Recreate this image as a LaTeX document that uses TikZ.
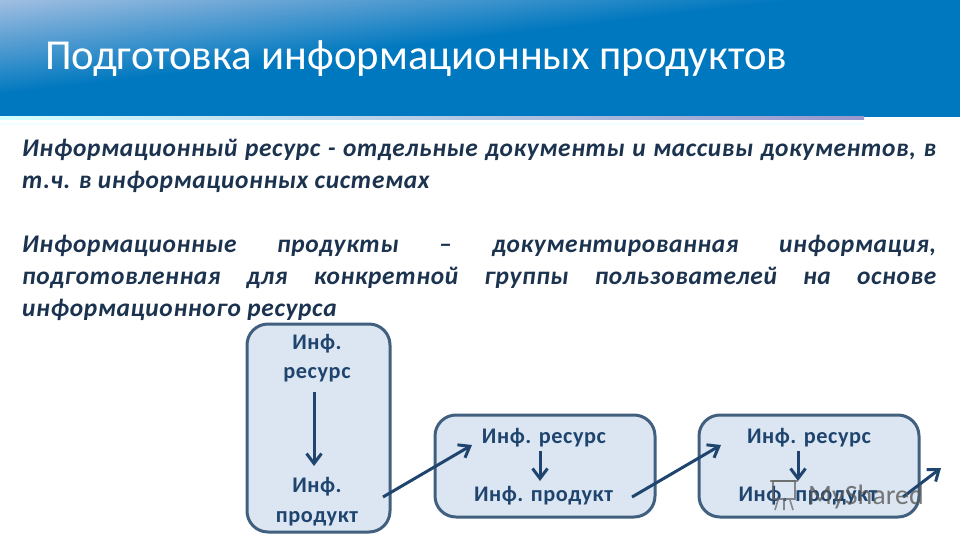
\documentclass[tikz,border=0pt]{standalone}
\usepackage{fontspec}
\setmainfont{Carlito}
\newfontfamily\wrapfont[LetterSpace=2.5]{Carlito}
\usetikzlibrary{arrows.meta}
\definecolor{headblue}{HTML}{0078BF}
\definecolor{headlight}{HTML}{A3BFE2}
\definecolor{inkblue}{HTML}{1F456F}
\definecolor{boxfill}{HTML}{DCE6F2}
\definecolor{boxline}{HTML}{41607F}
\definecolor{bodyink}{HTML}{1C3350}
\tikzset{
  infobox/.style={draw=boxline,line width=3pt,fill=boxfill,rounded corners=21pt},
  flow/.style={draw=inkblue,line width=3pt,-{Straight Barb[length=10pt,width=15pt,line width=3pt]}},
  boxtext/.style={text=inkblue,font=\fontsize{22.3}{24}\selectfont\bfseries\wrapfont,inner sep=0pt,anchor=base},
  para/.style={text=bodyink,font=\fontsize{25.4}{32}\selectfont\bfseries\itshape\wrapfont,inner sep=0pt,anchor=north west,text width=914pt,align=justify},
}
\begin{document}
\begin{tikzpicture}[x=1pt,y=-1pt]
\useasboundingbox (0,0) rectangle (960,540);
\fill[white] (0,0) rectangle (960,540);
% header
\fill[headblue] (0,0) rectangle (960,117);
\foreach \t in {96,94,...,2}{
  \pgfmathsetmacro{\pct}{\t*100/96}
  \pgfmathsetmacro{\xe}{\t*8.42}
  \colorlet{bandcol}{headblue!\pct!headlight}
  \fill[bandcol] (0,0) -- (0,\t) -- (\xe,0) -- cycle;
}
\shade[left color=cyan!18!white,right color=blue!35!gray!60!white] (0,117) rectangle (864,121);
\shade[top color=white,bottom color=cyan!8!white] (0,121) rectangle (864,125);
\node[text=white,inner sep=0pt,anchor=west,font=\fontsize{42.7}{46}\selectfont] (title) at (45,59) {Подготовка информационных продуктов};
% paragraphs
\node[para] (p1) at (22,139) {Информационный ресурс - отдельные документы и массивы документов, в\linebreak т.ч. в информационных системах};
\node[para] (p2) at (22,235) {Информационные продукты – документированная информация,\linebreak подготовленная для конкретной группы пользователей на основе\linebreak информационного ресурса};
% boxes
\node[infobox,minimum width=143pt,minimum height=208pt,inner sep=0pt] (b1) at (318.5,428) {};
\node[infobox,minimum width=220pt,minimum height=102pt,inner sep=0pt] (b2) at (545,466) {};
\node[infobox,minimum width=220pt,minimum height=102pt,inner sep=0pt] (b3) at (809,466) {};
% box texts
\node[boxtext] (r1a) at (317,349) {Инф.};
\node[boxtext] (r1b) at (317,378) {ресурс};
\node[boxtext] (p1a) at (317,492) {Инф.};
\node[boxtext] (p1b) at (317,522) {продукт};
\node[boxtext] (r2) at (544,443) {Инф. ресурс};
\node[boxtext] (p2t) at (543.5,501.5) {Инф. продукт};
\node[boxtext] (r3) at (809,443) {Инф. ресурс};
\node[boxtext] (p3t) at (808,501.5) {Инф. продукт};
% connectors
\coordinate (a1) at (314,392); \coordinate (a2) at (314,466);
\coordinate (c1) at (383,497); \coordinate (c2) at (472,445);
\coordinate (d1) at (540,451); \coordinate (d2) at (540,481);
\coordinate (e1) at (632,497); \coordinate (e2) at (721,445);
\coordinate (f1) at (798,451); \coordinate (f2) at (798,481);
\coordinate (g1) at (903,497); \coordinate (g2) at (941,468);
\draw[flow] (a1) -- (a2);
\draw[flow] (c1) -- (c2);
\draw[flow] (d1) -- (d2);
\draw[flow] (e1) -- (e2);
\draw[flow] (f1) -- (f2);
\draw[flow] (g1) -- (g2);
% watermark
\begin{scope}[draw=gray!80!black,opacity=.75,line width=1.6pt]
\draw (773,481) rectangle (795,499);
\draw (770,481) -- (798,481);
\draw (778,500) -- (775,510) (784,500) -- (784,510) (790,500) -- (793,510);
\end{scope}
\node[text=gray!70!black,opacity=.8,inner sep=0pt,anchor=base west,font=\fontsize{28}{30}\selectfont] (wm) at (808,504) {MyShared};
\end{tikzpicture}
\end{document}
